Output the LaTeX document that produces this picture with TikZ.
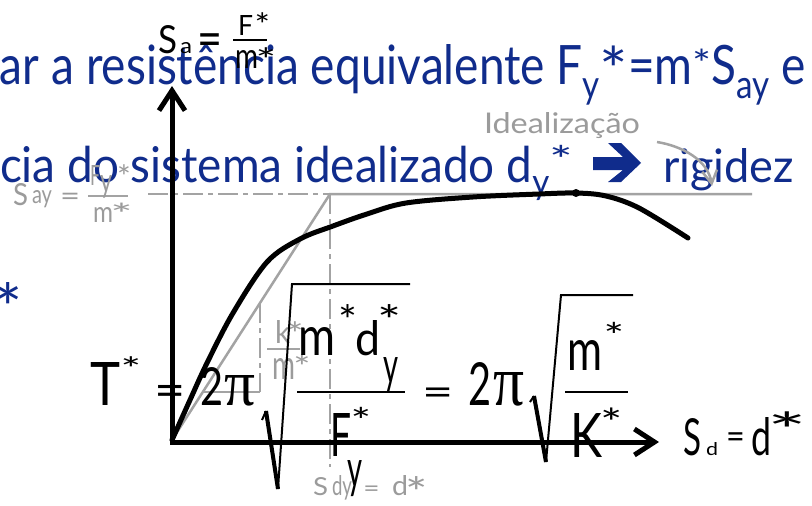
\documentclass[tikz,border=0pt]{standalone}
\usepackage{fontspec}
\setmainfont{Lato}
\newfontfamily\pifont{Liberation Serif}
\usetikzlibrary{arrows.meta}
\definecolor{tblue}{RGB}{16,44,140}
\definecolor{lgray}{RGB}{163,163,163}
\definecolor{tgray}{RGB}{155,155,155}
\newcommand\fs[1]{\fontsize{#1}{#1}\selectfont}
% glyph scaled to a given ink width and height (pt)
\newcommand\gl[3]{\resizebox{#1pt}{#2pt}{\fs{50}#3}}
% asterisk / equals sign whose ink is about w x h (box is larger than ink)
\newcommand\stbox[2]{\resizebox{\dimexpr #1pt*100/58\relax}{\dimexpr #2pt*100/42\relax}{\fs{50}*}}
\newcommand\eqbox[2]{\resizebox{\dimexpr #1pt*100/80\relax}{\dimexpr #2pt*100/57\relax}{\fs{50}=}}
% in-line asterisk (ink top, width, height in em) and subscript for the slide text
\newcommand\bst[3]{\raisebox{\dimexpr #1em-#3em*100/42\relax}{\resizebox{\dimexpr #2em*100/58\relax}{\dimexpr #3em*100/42\relax}{*}}}
\newcommand\sbs[1]{\raisebox{-0.26em}{\scalebox{0.72}{#1}}}
\tikzset{
  txt/.style={inner sep=0pt, outer sep=0pt, anchor=base west},
  topc/.style={inner sep=0pt, outer sep=0pt, anchor=north},
  axisline/.style={line width=5pt, -{Straight Barb[length=20pt,width=26pt]}},
  gline/.style={lgray, line width=2.5pt},
  dashdot/.style={lgray, line width=2.5pt, dash pattern=on 20pt off 5pt on 5pt off 5pt},
  curveline/.style={line width=5pt, line cap=round, line join=round},
  fbar/.style={line width=2.5pt},
}
\begin{document}
\begin{tikzpicture}[x=1pt,y=-1pt]
\useasboundingbox (0,0) rectangle (812,506);
\clip (0,0) rectangle (812,506);
\fill[white] (0,0) rectangle (812,506);

% ---- blue slide text (background) ----
\node[txt, text=tblue] (line1) at (0,84) {\resizebox{806pt}{40pt}{\fs{50}ar a resistência equivalente F\sbs{y}\bst{0.70}{0.36}{0.36}=m\bst{0.65}{0.24}{0.22}S\sbs{ay} e}};
\node[txt, text=tblue] (line2) at (0,182) {\resizebox{573pt}{37pt}{\fs{50}cia do sistema idealizado d\sbs{y}\bst{0.75}{0.3}{0.24}}};
\node[txt, text=tblue] (line2b) at (663,182) {\resizebox{131pt}{34pt}{\fs{50}rigidez}};
\node[topc, text=tblue] (line3) at (8.5,282) {\stbox{17}{21}};
\fill[tblue] (593,157) -- (623,157) -- (608,143) -- (621,143) -- (641,163) -- (621,182) -- (608,182) -- (623,170) -- (593,170) -- cycle;

% ---- gray idealisation ----
\draw[dashdot] (148,194) -- (330,194);
\draw[dashdot] (330,194) -- (330,467);
\draw[gline] (172,440) -- (330,194) -- (752,194);
\draw[dashdot] (260,303) -- (260,392);
\draw[gline] (202.8,392) -- (260,392);
\node[txt, text=tgray] (ideal) at (484,133) {\resizebox{156pt}{21pt}{\fs{50}Idealização}};
\draw[gline, -{Straight Barb[length=13pt,width=15pt]}] (657,142) .. controls (682,146) and (708,160) .. (712,186);

% gray labels
\node[txt, text=tgray] (SayS) at (13,205) {\gl{15}{22}{S}};
\node[txt, text=tgray] (Sayay) at (32,203) {\gl{20}{13}{ay}};
\node[topc, text=tgray] (Sayeq) at (70,193) {\eqbox{16}{7}};
\draw[gline, line width=2pt] (88,196) -- (128,196);
\node[txt, text=tgray] (SayF) at (90,185) {\gl{10}{20}{F}};
\node[txt, text=tgray] (Sayy) at (100,192) {\gl{12}{17}{y}};
\node[topc, text=tgray] (SayFs) at (124,165) {\stbox{8}{10}};
\node[txt, text=tgray] (Saym) at (93,222) {\gl{20}{15}{m}};
\node[topc, text=tgray] (Sayms) at (121.5,203) {\stbox{13}{9}};

\node[txt, text=tgray] (kk) at (275,343) {\gl{15}{23}{k}};
\node[topc, text=tgray] (kks) at (295,322) {\stbox{10}{10}};
\draw[gline, line width=2pt] (267,349) -- (300,349);
\node[txt, text=tgray] (km) at (272,379) {\gl{23}{21}{m}};
\node[topc, text=tgray] (kms) at (302,355) {\stbox{10}{10}};

\node[txt, text=tgray] (SdyS) at (313,495) {\gl{15}{18}{S}};
\node[txt, text=tgray] (Sdydy) at (332,495) {\gl{20}{20}{dy}};
\node[topc, text=tgray] (Sdyeq) at (371.5,486) {\eqbox{13}{6}};
\node[txt, text=tgray] (Sdyd) at (392,495) {\gl{16}{20}{d}};
\node[topc, text=tgray] (Sdys) at (416.5,477) {\stbox{13}{13}};

% ---- capacity curve ----
\draw[curveline] plot[smooth, tension=0.55] coordinates {(172,440) (190,400) (207,363) (233,313) (267,262) (300,239) (333,226) (367,214) (406,203) (473,197) (539,194) (576,193) (606,196) (639,208) (688,238)};
\fill (576,193) circle (4);

% ---- axes ----
\draw[axisline] (172,444.5) -- (172,86);
\draw[axisline] (169.5,442) -- (659,442);

% axis labels
\node[txt] (SaS) at (158,53) {\gl{19}{28}{S}};
\node[txt] (Saa) at (180,53) {\gl{12}{11}{a}};
\node[topc] (Saeq) at (210,34) {\eqbox{20}{13}};
\draw[line width=2pt] (233,40) -- (267,40);
\node[txt] (SaF) at (238,35) {\gl{15}{20}{F}};
\node[topc] (SaFs) at (262.5,13) {\stbox{9}{10}};
\node[txt] (Sam) at (235,68) {\gl{23}{18}{m}};
\node[topc] (Sams) at (266,48) {\stbox{12}{10}};

\node[txt] (SdS) at (683,455) {\gl{18}{37}{S}};
\node[txt] (Sdd) at (706,455) {\gl{12}{13}{d}};
\node[topc] (Sdeq) at (735.5,433) {\eqbox{15}{9}};
\node[txt] (Sddd) at (751,455) {\gl{20}{38}{d}};
\node[topc] (Sds) at (787.5,412) {\stbox{23}{15}};

% ---- period formula ----
\node[txt] (T) at (90,405) {\gl{30}{43}{T}};
\node[topc] (Ts) at (131,357) {\stbox{12}{10}};
\node[topc] (eqA) at (170.5,385) {\eqbox{25}{12}};
\node[txt] (twoA) at (200,405) {\gl{23}{38}{2}};
\node[txt] (piA) at (224,405) {\gl{31}{30}{\pifont π}};
\draw[line width=2pt] (262,420) -- (266,411);
\draw[line width=4pt] (266,411) -- (278,489);
\draw[line width=2pt, line join=miter] (278,489) -- (292,284) -- (410,284);
\node[txt] (mA) at (298,355) {\gl{37}{28}{m}};
\node[topc] (mAs) at (347.5,305) {\stbox{11}{13}};
\node[txt] (dA) at (355,355) {\gl{25}{35}{d}};
\node[topc] (dAs) at (390,305) {\stbox{14}{13}};
\node[txt] (dAy) at (383,383) {\gl{15}{26}{y}};
\draw[fbar] (297,392) -- (405,392);
\node[txt] (FA) at (330,456) {\gl{21}{43}{F}};
\node[topc] (FAs) at (361,407) {\stbox{12}{11}};
\node[txt] (FAy) at (347,487) {\gl{15}{27}{y}};

\node[topc] (eqB) at (438.5,388) {\eqbox{25}{10}};
\node[txt] (twoB) at (468,405) {\gl{23}{43}{2}};
\node[txt] (piB) at (493,405) {\gl{31}{33}{\pifont π}};
\draw[line width=2pt] (530,402) -- (534,396);
\draw[line width=4pt] (534,396) -- (546,462);
\draw[line width=2pt, line join=miter] (546,462) -- (561,295) -- (633,295);
\node[txt] (mB) at (567,370) {\gl{35}{30}{m}};
\node[topc] (mBs) at (614,322) {\stbox{12}{11}};
\draw[fbar] (565,392) -- (628,392);
\node[txt] (KB) at (570,457) {\gl{32}{44}{K}};
\node[topc] (KBs) at (611.5,408) {\stbox{13}{12}};
\end{tikzpicture}
\end{document}
